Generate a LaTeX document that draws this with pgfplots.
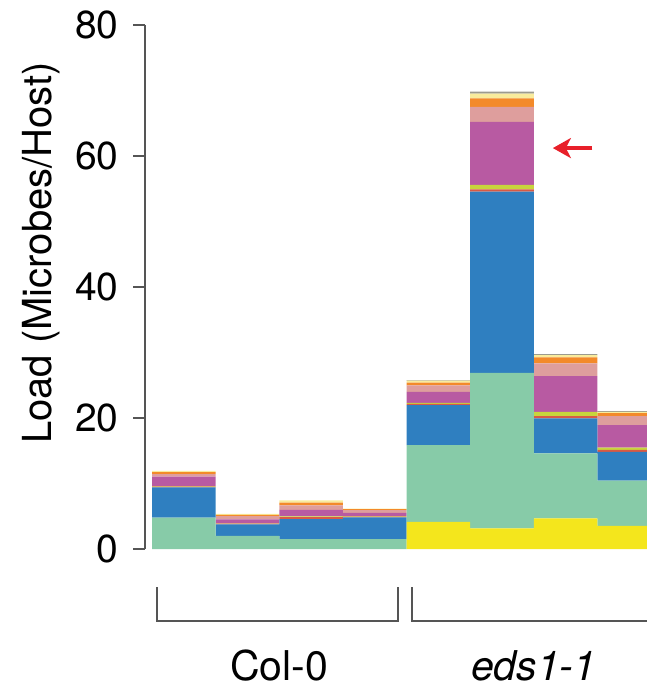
\documentclass[border=0pt]{standalone}
\usepackage{fontspec}
\setmainfont{TeX Gyre Heros}
\usepackage{pgfplots}
\pgfplotsset{compat=1.18}
\usepackage{pgfplotstable}
\usetikzlibrary{arrows.meta}

\definecolor{cyel}{HTML}{F4E61C}
\definecolor{cmint}{HTML}{87CBA8}
\definecolor{cblue}{HTML}{2F7FC0}
\definecolor{cred}{HTML}{D85A45}
\definecolor{cyg}{HTML}{C8D53C}
\definecolor{cmag}{HTML}{B85AA2}
\definecolor{cpink}{HTML}{DE9E9D}
\definecolor{corange}{HTML}{F38A2A}
\definecolor{cly}{HTML}{F9EC9C}
\definecolor{cgrey}{HTML}{9C9B8E}
\definecolor{axgray}{HTML}{555555}

\pgfplotstableread{
x yel  mint  blue  red  yg   mag  pink orange ly   grey
0 0    4.78  4.64  0.10 0.10 1.42 0.40 0.30   0.20 0
1 0    2.03  1.74  0.10 0.05 0.60 0.50 0.20   0.15 0
2 0    1.53  3.05  0.30 0.10 1.00 0.70 0.40   0.35 0
3 0    1.53  3.31  0.10 0.10 0.50 0.40 0.15   0.10 0
4 4.15 11.70 6.10  0.20 0.15 1.70 1.00 0.40   0.30 0.10
5 3.15 23.75 27.65 0.35 0.70 9.60 2.30 1.30   0.70 0.30
6 4.70 9.90  5.35  0.35 0.65 5.45 1.95 0.90   0.35 0.15
7 3.55 6.90  4.40  0.30 0.35 3.40 1.40 0.45   0.20 0.10
}\loadtable

\begin{document}
\begin{tikzpicture}
\begin{axis}[
  x=31.8pt, y=3.275pt,
  xmin=-0.61, xmax=7.27, ymin=0, ymax=80,
  ybar stacked, bar width=31.8pt,
  hide x axis, axis y line*=left,
  ytick={0,20,40,60,80},
  tick align=outside, major tick length=6pt,
  axis line style={draw=axgray, line width=0.8pt},
  ytick style={draw=axgray, line width=0.8pt},
  yticklabel style={font=\fontsize{19.5}{22}\selectfont, inner sep=0pt, xshift=-7pt},
  /pgf/number format/assume math mode=true,
  clip=false,
  ylabel={Load (Microbes/Host)},
  ylabel style={font=\fontsize{20}{24}\selectfont, at={(axis description cs:-0.2076,0.565)}, anchor=center},
  every axis plot/.append style={draw=none},
]
\addplot[fill=cyel] table[x=x,y=yel]{\loadtable};
\addplot[fill=cmint] table[x=x,y=mint]{\loadtable};
\addplot[fill=cblue] table[x=x,y=blue]{\loadtable};
\addplot[fill=cred] table[x=x,y=red]{\loadtable};
\addplot[fill=cyg] table[x=x,y=yg]{\loadtable};
\addplot[fill=cmag] table[x=x,y=mag]{\loadtable};
\addplot[fill=cpink] table[x=x,y=pink]{\loadtable};
\addplot[fill=corange] table[x=x,y=orange]{\loadtable};
\addplot[fill=cly] table[x=x,y=ly]{\loadtable};
\addplot[fill=cgrey] table[x=x,y=grey]{\loadtable};

\draw[axgray, line width=0.8pt] (axis cs:-0.42,-5.8) -- (axis cs:-0.42,-11) -- (axis cs:3.37,-11) -- (axis cs:3.37,-5.8);
\draw[axgray, line width=0.8pt] (axis cs:3.59,-5.8) -- (axis cs:3.59,-11) -- (axis cs:7.6,-11);
\node[anchor=base, font=\fontsize{20.5}{24}\selectfont] at (axis cs:1.5,-20) {Col-0};
\node[anchor=base, font=\fontsize{20.5}{24}\selectfont\itshape] at (axis cs:5.5,-20) {eds1-1};
\draw[-{Stealth[length=9pt,width=10pt,inset=2.5pt]}, color={rgb,255:red,232;green,32;blue,42}, line width=1.6pt] (axis cs:6.42,61.2) -- (axis cs:5.80,61.2);

\coordinate (bbSW) at (axis cs:-2.89,-20.9);
\coordinate (bbNE) at (axis cs:7.27,83.8);
\end{axis}
\pgfresetboundingbox
\path[use as bounding box] (bbSW) rectangle (bbNE);
\end{tikzpicture}
\end{document}
